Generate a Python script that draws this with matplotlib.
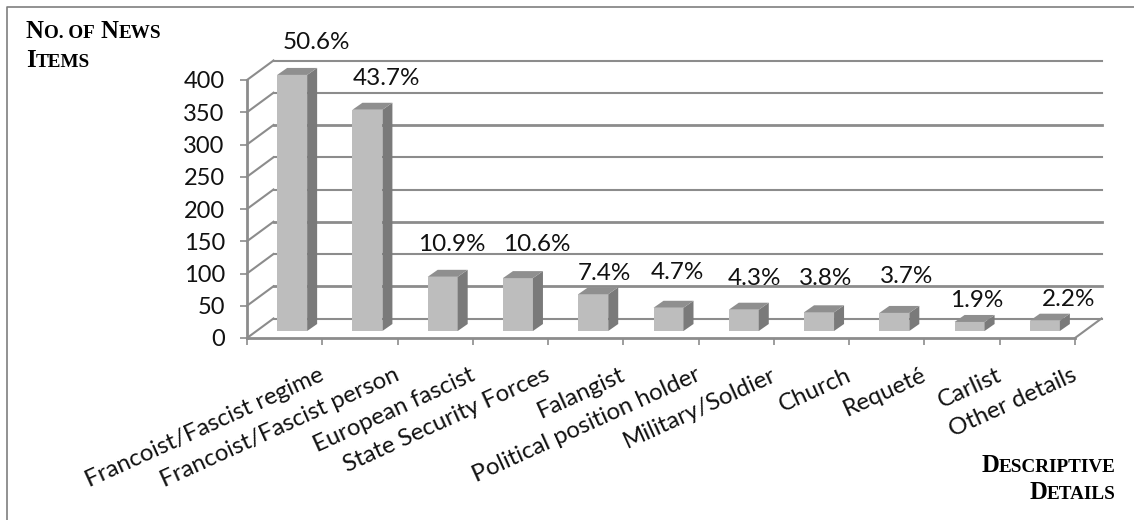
import numpy as np
import matplotlib
matplotlib.use('Agg')
import matplotlib.pyplot as plt
from matplotlib.lines import Line2D
from matplotlib.transforms import ScaledTranslation

categories = ['Francoist/Fascist regime', 'Francoist/Fascist person', 'European fascist',
              'State Security Forces', 'Falangist', 'Political position holder',
              'Military/Soldier', 'Church', 'Requeté', 'Carlist', 'Other details']
news_items = [397, 343, 84, 82, 57, 36, 33, 29, 28, 14, 16]
percent_labels = ['50.6%', '43.7%', '10.9%', '10.6%', '7.4%', '4.7%', '4.3%', '3.8%', '3.7%', '1.9%', '2.2%']
y_ticks = [0, 50, 100, 150, 200, 250, 300, 350, 400]

# nudges for the percent labels, in pixels from the top of each bar
label_dx = [24, 19, 9, 19, 11, 9, 11, 7, 12, 7, 24]
label_dy = [32, 31, 32, 34, 21, 35, 31, 34, 36, 21, 21]

W, H = 1134, 520
grey = '#8c8c8c'
label_font = 'Lato'

fig = plt.figure(figsize=(W / 100, H / 100), dpi=100, facecolor='white')
ax = fig.add_axes([247 / W, 1 - 338 / H, 828 / W, 258 / H])
ax.set_xlim(0, 11)
ax.set_ylim(0, 400)
ax.patch.set_visible(False)

# how many data units one pixel is
px_x = 11 / 828
px_y = 400 / 258
back_x = 26.5 * px_x
back_y = 19.5 * px_y

# back wall gridlines and left wall diagonals
for t in y_ticks:
    lw = 2 if t in (50, 150, 300) else 1.5
    ax.plot([0, back_x], [t, t + back_y], color=grey, lw=1.5, clip_on=False, zorder=1)
    ax.plot([back_x, 11 + back_x], [t + back_y, t + back_y], color=grey, lw=lw, clip_on=False, zorder=1)
ax.plot([11, 11 + back_x], [0, back_y], color=grey, lw=1.5, clip_on=False, zorder=1)

# 3d bars
bar_w = 30 * px_x
depth_x = 10 * px_x
depth_y = 7 * px_y
base = 7 * px_y
for i, v in enumerate(news_items):
    x0 = i + 0.5 + 7.5 * px_x - bar_w / 2
    x1 = x0 + bar_w
    top = base + v
    ax.fill([x0, x1, x1, x0], [base, base, top, top], color='#bdbdbd', lw=0, zorder=3, clip_on=False)
    ax.fill([x1, x1 + depth_x, x1 + depth_x, x1], [base, base + depth_y, top + depth_y, top],
            color='#7a7a7a', lw=0, zorder=3, clip_on=False)
    ax.fill([x0, x1, x1 + depth_x, x0 + depth_x], [top, top, top + depth_y, top + depth_y],
            color='#8f8f8f', lw=0, zorder=3, clip_on=False)
    ax.annotate(percent_labels[i], ((x0 + x1) / 2, top), xytext=(label_dx[i] * 0.72, label_dy[i] * 0.72),
                textcoords='offset points', ha='center', va='center', fontsize=17.5,
                family=label_font, color='#111111', zorder=5, annotation_clip=False)

for s in ['top', 'right']:
    ax.spines[s].set_visible(False)
for s in ['left', 'bottom']:
    ax.spines[s].set_color(grey)
    ax.spines[s].set_linewidth(2)
    ax.spines[s].set_zorder(2)

ax.set_yticks(y_ticks)
ax.set_yticklabels([str(t) for t in y_ticks], fontsize=17, family=label_font, color='#111111')
ax.tick_params(axis='y', length=5, width=1.2, color=grey, pad=11)
ax.set_xticks(np.arange(12))
ax.set_xticklabels([])
ax.tick_params(axis='x', which='major', length=5, width=1.2, color=grey)
ax.set_xticks(np.arange(11) + 0.5, minor=True)
ax.set_xticklabels(categories, minor=True, rotation=24.5, ha='right', va='top', rotation_mode='anchor',
                   fontsize=17.3, family=label_font, color='#111111')
ax.tick_params(axis='x', which='minor', length=0, pad=19)
shift = ScaledTranslation(34 / 100, 0, fig.dpi_scale_trans)
for lab in ax.get_xticklabels(minor=True):
    lab.set_transform(lab.get_transform() + shift)

# frame, only top and left edges are there
fig.add_artist(Line2D([6.5 / W, 6.5 / W, 1], [0, 1 - 6.5 / H, 1 - 6.5 / H], transform=fig.transFigure,
                      color='#7f7f7f', lw=1.2))


# small caps headings, big letters and small letters are separate pieces
def small_caps(pieces, x, y, right=False):
    r = fig.canvas.get_renderer()
    items = []
    total = 0
    for s, big in pieces:
        t = fig.text(x / W, 1 - y / H, s, family='Liberation Serif', weight='bold',
                     fontsize=17.8 if big else 13.8, color='black', va='baseline', ha='left')
        w = t.get_window_extent(r).width
        # keep the trailing space width
        if s.endswith(' '):
            w += 2
        items.append((t, w))
        total += w
    cur = x - total if right else x
    for t, w in items:
        t.set_x(cur / W)
        cur += w


small_caps([('N', True), ('O. OF ', False), ('N', True), ('EWS', False)], 26, 38)
small_caps([('I', True), ('TEMS', False)], 26, 67)
small_caps([('D', True), ('ESCRIPTIVE', False)], 1116, 472, right=True)
small_caps([('D', True), ('ETAILS', False)], 1116, 499, right=True)

fig.savefig('out.png', dpi=100)
